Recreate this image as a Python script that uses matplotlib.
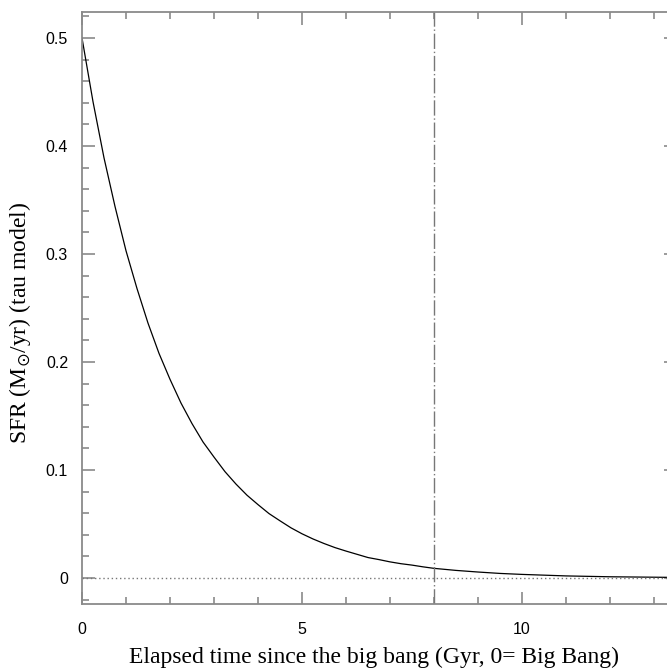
import matplotlib.pyplot as plt
import numpy as np

# SFR (tau model)
t_gyr = [0.0, 0.25, 0.5, 0.75, 1.0, 1.25, 1.5, 1.75, 2.0, 2.25, 2.5, 2.75,
         3.0, 3.25, 3.5, 3.75, 4.0, 4.25, 4.5, 4.75, 5.0, 5.25, 5.5, 5.75,
         6.0, 6.25, 6.5, 6.75, 7.0, 7.25, 7.5, 7.75, 8.0, 8.5, 9.0, 9.5,
         10.0, 11.0, 12.0, 13.0, 13.5]
sfr = [0.500, 0.441, 0.389, 0.344, 0.303, 0.268, 0.236, 0.208, 0.184, 0.162,
       0.143, 0.126, 0.112, 0.0985, 0.087, 0.0767, 0.068, 0.0597, 0.053,
       0.0465, 0.041, 0.0362, 0.032, 0.0282, 0.025, 0.0220, 0.019, 0.0171,
       0.015, 0.0133, 0.012, 0.0104, 0.009, 0.0071, 0.0056, 0.0043, 0.0034,
       0.0020, 0.0012, 0.0008, 0.0006]
t_obs = 8.0
x_ticks = [0, 5, 10]
y_ticks = [0, 0.1, 0.2, 0.3, 0.4, 0.5]
y_tick_labels = ["0", "0.1", "0.2", "0.3", "0.4", "0.5"]

W, H = 667, 671
fig = plt.figure(figsize=(W / 100, H / 100), dpi=100)
ax = fig.add_axes([82 / W, 1 - 604 / H, (676 - 82) / W, (604 - 12) / H])

axis_grey = "#8a8a8a"

ax.plot(t_gyr, sfr, color="black", lw=0.9)
ax.axhline(0, color="#777777", lw=1.0, ls=(0, (1, 2)))
ax.axvline(t_obs, color="#777777", lw=1.0, ls=(0, (11, 2, 1, 2)))

ax.set_xlim(0, 13.5)
ax.set_ylim(-0.024, 0.524)

ax.set_xticks(x_ticks)
ax.set_xticks(np.arange(0, 14, 1), minor=True)
ax.set_yticks(y_ticks)
ax.set_yticklabels(y_tick_labels)
ax.set_yticks(np.arange(-0.02, 0.53, 0.02), minor=True)

for s in ax.spines.values():
    s.set_color(axis_grey)
    s.set_linewidth(1.3)

ax.tick_params(which="both", direction="in", top=True, right=True,
               color=axis_grey, width=1.2)
ax.tick_params(which="major", length=9)
ax.tick_params(which="minor", length=5)
ax.tick_params(axis="x", which="major", pad=13, labelsize=11.5)
ax.tick_params(axis="y", which="major", pad=10, labelsize=11.5)
for lab in ax.get_xticklabels() + ax.get_yticklabels():
    lab.set_family("Liberation Sans")

plt.rcParams["mathtext.fontset"] = "stix"
ax.set_xlabel("Elapsed time since the big bang (Gyr, 0= Big Bang)",
              family="Liberation Serif", fontsize=17)
ax.set_ylabel(r"SFR (M$_{\odot}$/yr) (tau model)",
              family="Liberation Serif", fontsize=17)
ax.xaxis.set_label_coords(0.492, -0.072)
ax.yaxis.set_label_coords(-0.082, 0.475)

fig.savefig("out.png", dpi=100)
